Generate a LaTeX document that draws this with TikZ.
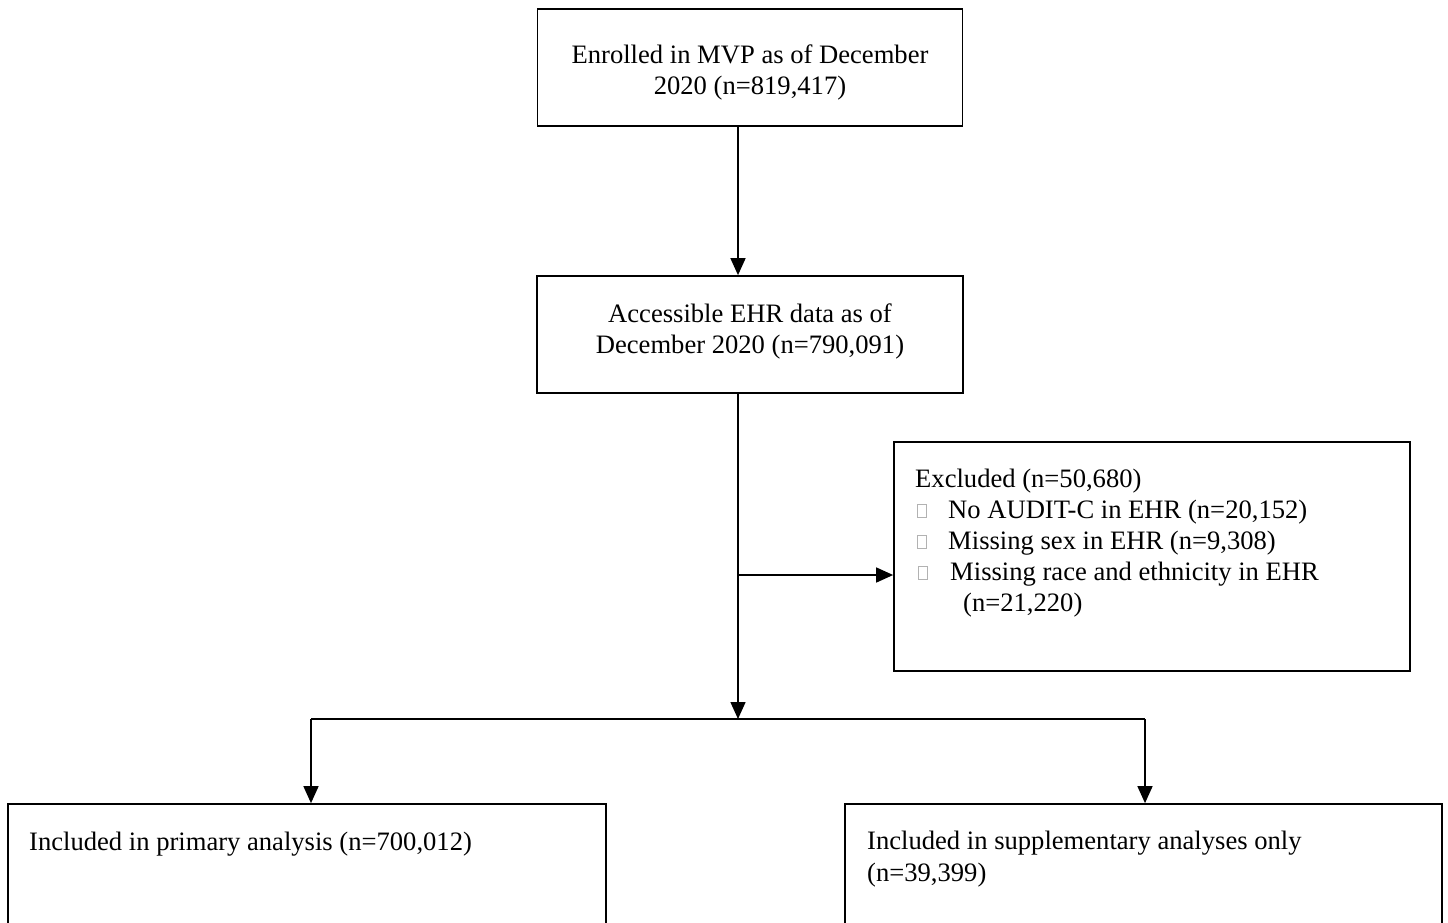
\documentclass[tikz,border=0pt]{standalone}
\usepackage{fontspec}
\setmainfont{Liberation Serif}
\usetikzlibrary{arrows.meta}
\begin{document}
\begin{tikzpicture}[x=1pt,y=-1pt,
  box/.style={draw=black,line width=1.7pt,rectangle,inner sep=0pt},
  txt/.style={inner sep=0pt,font=\fontsize{26.6}{31}\selectfont},
  tofu/.style={draw=gray!60,line width=0.8pt,rectangle,inner sep=0pt,minimum width=9pt,minimum height=13pt,anchor=south west},
  conn/.style={line width=1.5pt,draw=black},
  arr/.style={conn,-{Triangle[length=17pt,width=15pt]}}]
\useasboundingbox (0,0) rectangle (1448,922);
\fill[white] (0,0) rectangle (1448,922);
% boxes
\node[box,minimum width=425pt,minimum height=117pt] (b1) at (750,67.5) {};
\node[box,minimum width=426pt,minimum height=117pt] (b2) at (750,334.5) {};
\node[box,minimum width=516pt,minimum height=229pt] (ex) at (1152,556.5) {};
\node[box,minimum width=598pt,minimum height=160pt] (pr) at (307,884) {};
\node[box,minimum width=597pt,minimum height=160pt] (su) at (1143.5,884) {};
% texts
\node[txt,anchor=base] (b1a) at (750,63) {Enrolled in MVP as of December};
\node[txt,anchor=base] (b1b) at (750,94) {2020 (n=819,417)};
\node[txt,anchor=base] (b2a) at (750,322) {Accessible EHR data as of};
\node[txt,anchor=base] (b2b) at (750,353) {December 2020 (n=790,091)};
\node[txt,anchor=base west] (e0) at (915,487) {Excluded (n=50,680)};
\node[tofu] (t1) at (917,518) {};
\node[txt,anchor=base west] (e1) at (948,518) {No AUDIT-C in EHR (n=20,152)};
\node[tofu] (t2) at (917,549) {};
\node[txt,anchor=base west] (e2) at (948,549) {Missing sex in EHR (n=9,308)};
\node[tofu] (t3) at (918,580) {};
\node[txt,anchor=base west] (e3) at (950,580) {Missing race and ethnicity in EHR};
\node[txt,anchor=base west] (e4) at (963,611) {(n=21,220)};
\node[txt,anchor=base west] (p1) at (29,850) {Included in primary analysis (n=700,012)};
\node[txt,anchor=base west] (s1) at (867,849) {Included in supplementary analyses only};
\node[txt,anchor=base west] (s2) at (867,881) {(n=39,399)};
% connectors
\coordinate (j) at (738,719);
\coordinate (jl) at (311,719);
\coordinate (jr) at (1145,719);
\coordinate (jx) at (738,575);
\draw[arr] (b1.south -| j) -- (b2.north -| j);
\draw[arr] (b2.south -| j) -- (j);
\draw[arr] (jx) -- (ex.west |- jx);
\draw[conn] (jl) -- (jr);
\draw[arr] (jl) -- (pr.north -| jl);
\draw[arr] (jr) -- (su.north -| jr);
\end{tikzpicture}
\end{document}
